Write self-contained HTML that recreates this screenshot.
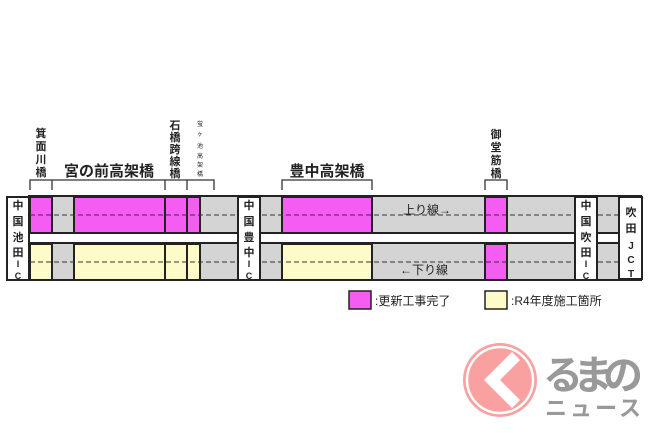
<!DOCTYPE html>
<html><head><meta charset="utf-8"><style>
body{margin:0;background:#fff;width:650px;height:433px;overflow:hidden}
svg{display:block}
text{font-family:"Liberation Sans","Noto Sans CJK JP",sans-serif;fill:#222}
</style></head><body>
<svg width="650" height="433" viewBox="0 0 650 433">
<rect x="29" y="196" width="612" height="37" fill="#d4d4d4" stroke="#222" stroke-width="2"/>
<rect x="29" y="243" width="612" height="37" fill="#d4d4d4" stroke="#222" stroke-width="2"/>
<rect x="29" y="234" width="612" height="8" fill="#fff"/>
<g stroke="#222" stroke-width="2" fill="#f55cf2">
<rect x="30" y="197" width="22" height="36"/>
<rect x="74" y="197" width="91" height="36"/>
<rect x="165" y="197" width="22" height="36"/>
<rect x="187" y="197" width="13" height="36"/>
<rect x="282" y="197" width="90" height="36"/>
<rect x="485" y="197" width="22" height="36"/>
<rect x="485" y="244" width="22" height="36"/>
</g>
<g stroke="#222" stroke-width="2" fill="#fdfcc8">
<rect x="30" y="244" width="22" height="36"/>
<rect x="74" y="244" width="91" height="36"/>
<rect x="165" y="244" width="22" height="36"/>
<rect x="187" y="244" width="13" height="36"/>
<rect x="282" y="244" width="90" height="36"/>
</g>
<line x1="30" y1="215" x2="640" y2="215" stroke="#333" stroke-width="1" stroke-dasharray="5,3"/>
<line x1="30" y1="262" x2="640" y2="262" stroke="#333" stroke-width="1" stroke-dasharray="5,3"/>
<g stroke="#222" stroke-width="2" fill="#fff">
<rect x="7" y="197" width="22" height="83"/>
<rect x="238" y="197" width="22" height="83"/>
<rect x="575" y="197" width="22" height="83"/>
<rect x="619" y="197" width="23" height="82"/>
</g>
<g font-size="11" text-anchor="middle" font-weight="bold">
<text x="18" y="209">中</text><text x="18" y="225">国</text><text x="18" y="241">池</text><text x="18" y="256">田</text><text x="18" y="267" font-size="9">I</text><text x="18" y="279" font-size="9">C</text>
<text x="249" y="209">中</text><text x="249" y="225">国</text><text x="249" y="241">豊</text><text x="249" y="256">中</text><text x="249" y="267" font-size="9">I</text><text x="249" y="279" font-size="9">C</text>
<text x="586" y="209">中</text><text x="586" y="225">国</text><text x="586" y="241">吹</text><text x="586" y="256">田</text><text x="586" y="267" font-size="9">I</text><text x="586" y="279" font-size="9">C</text>
<text x="631" y="216">吹</text><text x="631" y="232">田</text><text x="631" y="249" font-size="10">J</text><text x="631" y="263" font-size="10">C</text><text x="631" y="277" font-size="10">T</text>
</g>
<g stroke="#333" stroke-width="1.3" fill="none">
<path d="M30,190 V180 H52 V190 M52,180 H165 V190 M165,180 H187 V190 M187,180 H214 V190"/>
<path d="M282,190 V180 H372 V190"/>
<path d="M485,190 V180 H507 V190"/>
</g>
<g font-size="11" font-weight="bold" text-anchor="middle">
<text x="41" y="137">箕</text><text x="41" y="150">面</text><text x="41" y="163">川</text><text x="41" y="176">橋</text>
<text x="175" y="129">石</text><text x="175" y="141">橋</text><text x="175" y="153">跨</text><text x="175" y="165">線</text><text x="175" y="177">橋</text>
<text x="496" y="138">御</text><text x="496" y="151">堂</text><text x="496" y="164">筋</text><text x="496" y="177">橋</text>
</g>
<g font-size="6" text-anchor="middle">
<text x="200" y="126">蛍</text><text x="200" y="136">ヶ</text><text x="200" y="148">池</text><text x="200" y="158">高</text><text x="200" y="167">架</text><text x="200" y="176">橋</text>
</g>
<text x="109" y="176" font-size="15" font-weight="bold" text-anchor="middle">宮の前高架橋</text>
<text x="327" y="176" font-size="15" font-weight="bold" text-anchor="middle">豊中高架橋</text>
<text x="403" y="214" font-size="12">上り線→</text>
<text x="400" y="274" font-size="12">←下り線</text>
<rect x="349" y="291" width="22" height="18" fill="#f55cf2" stroke="#222" stroke-width="1.5"/>
<text x="375" y="305" font-size="12">:更新工事完了</text>
<rect x="485" y="291" width="22" height="18" fill="#fdfcc8" stroke="#222" stroke-width="1.5"/>
<text x="511" y="305" font-size="12">:R4年度施工箇所</text>
<circle cx="500" cy="380" r="37" fill="#f9a1a1"/>
<circle cx="500" cy="380" r="33" fill="none" stroke="#fff" stroke-width="2.5"/>
<path d="M512,352 L484,380 L512,408 L520,400 L500,380 L520,360 Z" fill="#fff"/>
<text x="543" y="389" font-size="40" font-weight="bold" style="fill:#999" textLength="100">るまの</text>
<text x="545" y="416" font-size="22" font-weight="bold" style="fill:#999" textLength="96">ニュース</text>
</svg>
</body></html>
